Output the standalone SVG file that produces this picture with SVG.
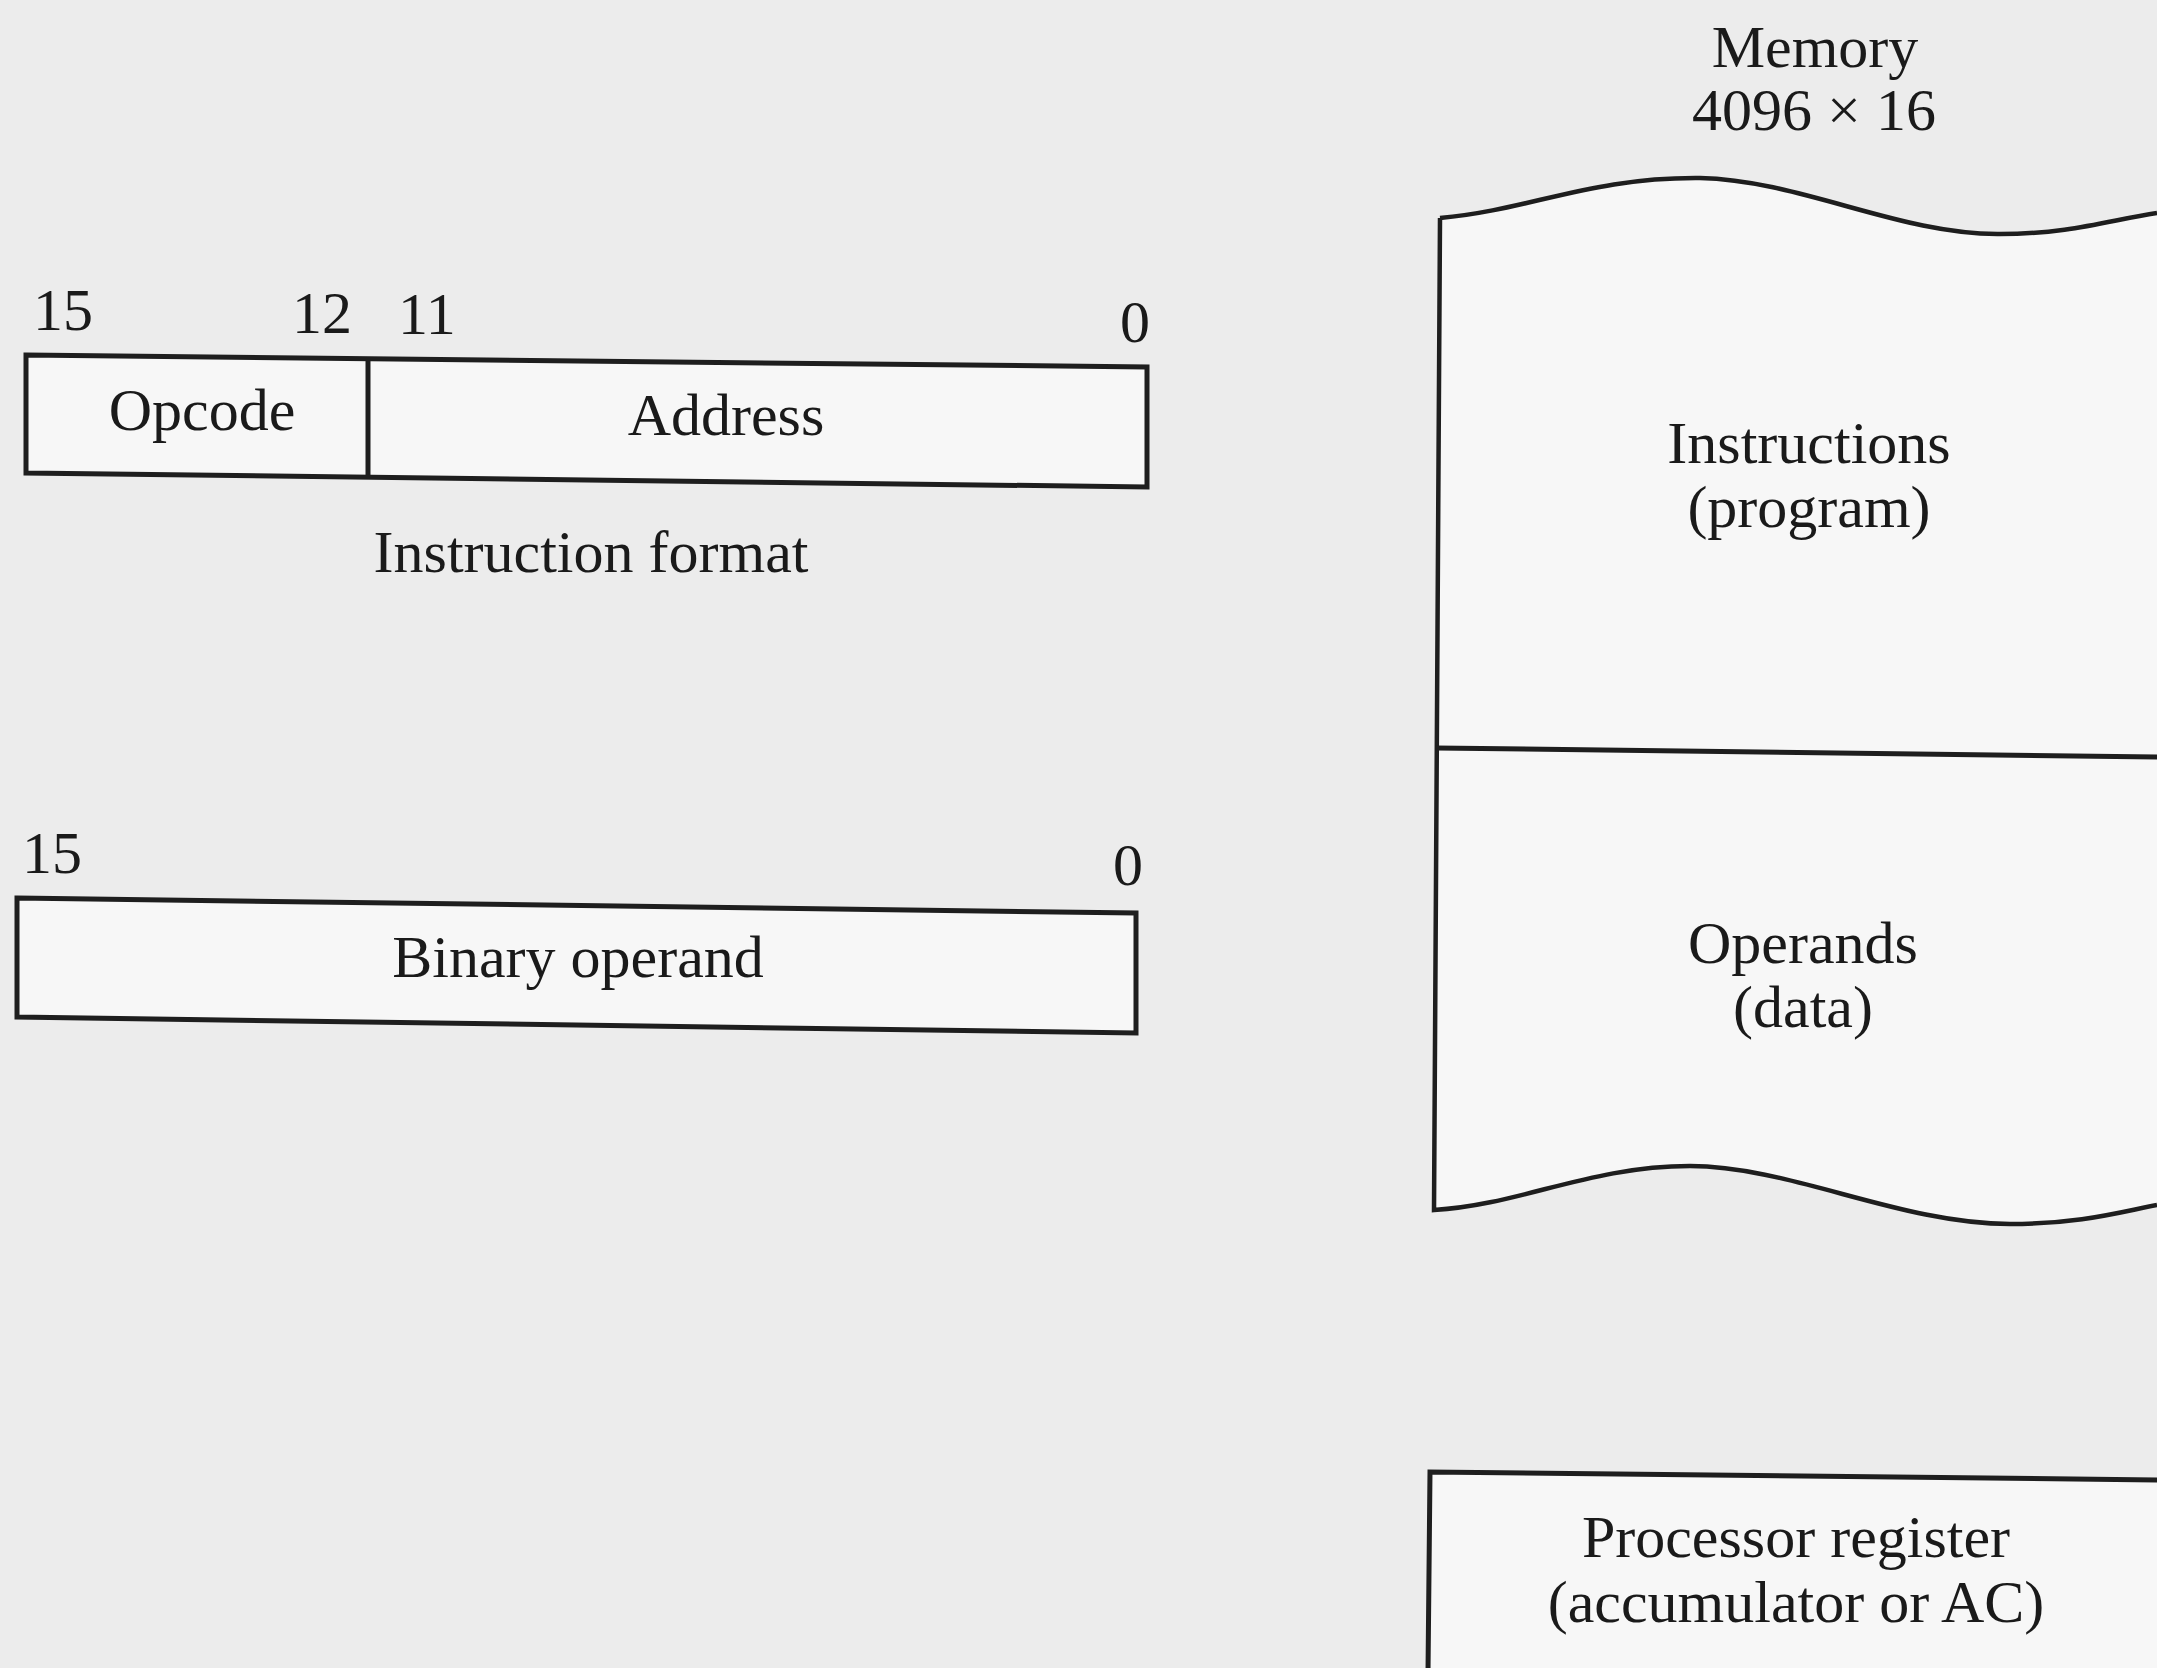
<svg xmlns="http://www.w3.org/2000/svg" width="2157" height="1668" viewBox="0 0 2157 1668">
<style>
  .t { font-family: "Liberation Serif", "Times New Roman", serif; font-size: 60px; fill: #1a1a1a; }
  .m { text-anchor: middle; }
  .box { fill: #f7f7f7; stroke: #1e1e1e; stroke-width: 5; stroke-linejoin: miter; }
  .fill { fill: #f7f7f7; stroke: none; }
  .ln { fill: none; stroke: #1e1e1e; stroke-width: 5; stroke-linecap: butt; }
  .wave { fill: none; stroke: #1e1e1e; stroke-width: 4.5; stroke-linejoin: miter; }
</style>
<rect x="0" y="0" width="2157" height="1668" fill="#ececec"/>

<g id="instruction-format">
  <polygon class="box" points="26,355 1147,367 1147,487 26,473"/>
  <line class="ln" x1="368" y1="359" x2="368" y2="477"/>
  <text class="t" x="33" y="330">15</text>
  <text class="t" x="292" y="333">12</text>
  <text class="t" x="398" y="334">11</text>
  <text class="t" x="1120" y="342">0</text>
  <text class="t m" x="202" y="430">Opcode</text>
  <text class="t m" x="726" y="435">Address</text>
  <text class="t m" x="591" y="572">Instruction format</text>
</g>

<g id="binary-operand">
  <polygon class="box" points="17,898 1136,913 1136,1033 17,1017"/>
  <text class="t" x="22" y="873">15</text>
  <text class="t" x="1113" y="885">0</text>
  <text class="t m" x="578" y="977">Binary operand</text>
</g>

<g id="memory">
  <text class="t m" x="1815" y="67">Memory</text>
  <text class="t m" x="1814" y="130">4096 × 16</text>
  <path class="fill" d="M1440,218 C1530,210 1590,177 1700,178 C1800,180 1900,235 2000,234 C2070,234 2110,220 2157,213 L2157,1205 C2120,1212 2080,1224 2010,1224 C1900,1224 1790,1166 1690,1166 C1590,1166 1520,1205 1434,1210 Z"/>
  <path class="wave" d="M1440,218 C1530,210 1590,177 1700,178 C1800,180 1900,235 2000,234 C2070,234 2110,220 2157,213"/>
  <path class="wave" d="M1440,218 L1434,1210 C1520,1205 1590,1166 1690,1166 C1790,1166 1900,1224 2010,1224 C2080,1224 2120,1212 2157,1205"/>
  <line class="ln" x1="1436" y1="748" x2="2157" y2="757"/>
  <text class="t m" x="1809" y="463">Instructions</text>
  <text class="t m" x="1809" y="527">(program)</text>
  <text class="t m" x="1803" y="963">Operands</text>
  <text class="t m" x="1803" y="1027">(data)</text>
</g>

<g id="processor-register">
  <polygon class="fill" points="1430,1472 2157,1480 2157,1668 1428,1668"/>
  <path class="ln" d="M2160,1480 L1430,1472 L1428,1672"/>
  <text class="t m" x="1796" y="1557">Processor register</text>
  <text class="t m" x="1796" y="1622">(accumulator or AC)</text>
</g>

<g id="connectors"></g>
</svg>
